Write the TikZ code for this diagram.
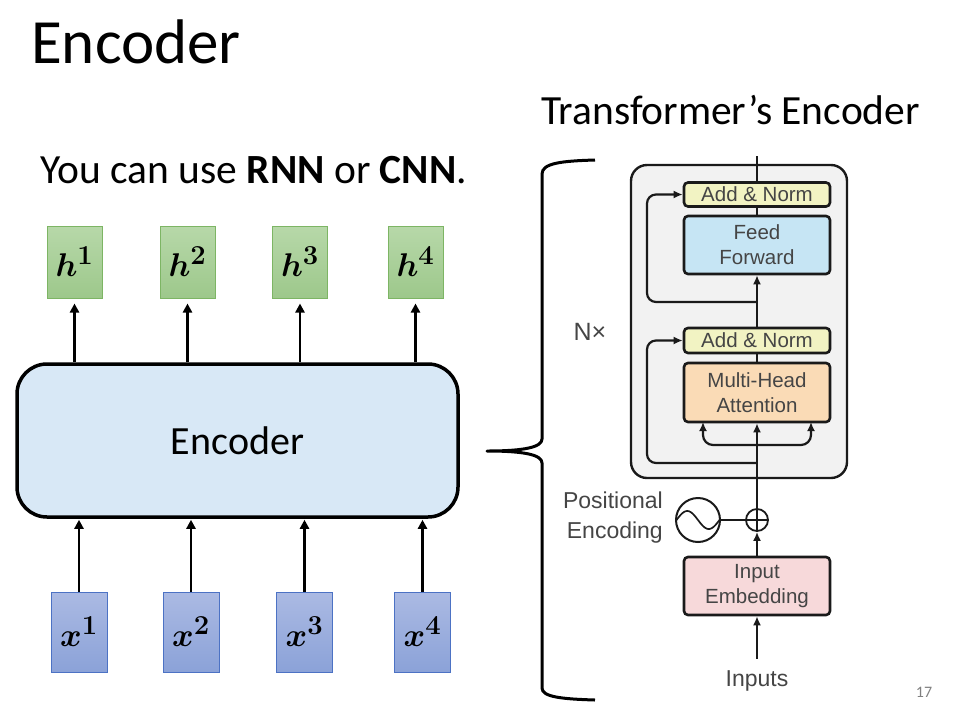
\documentclass[tikz,border=0pt]{standalone}
\usepackage[no-math]{fontspec}
\setmainfont{Carlito}
\newfontfamily\helv{Liberation Sans}
\usepackage{bm}
\usepackage{graphicx}
\usetikzlibrary{arrows.meta,calc}
\newcommand\biglab[1]{\scalebox{1.32}{$\bm{#1}$}}
\definecolor{hgt}{HTML}{B7D8A9}
\definecolor{hgb}{HTML}{9DC88B}
\definecolor{hbd}{HTML}{7DB564}
\definecolor{xgt}{HTML}{ABBAE3}
\definecolor{xgb}{HTML}{8BA2D8}
\definecolor{xbd}{HTML}{4C72C4}
\definecolor{encfill}{HTML}{D8E8F6}
\definecolor{tline}{HTML}{1A1A1A}
\definecolor{tgray}{HTML}{454545}
\definecolor{tbfill}{HTML}{F2F2F2}
\definecolor{anfill}{HTML}{F2F3C3}
\definecolor{fffill}{HTML}{C6E5F4}
\definecolor{mhfill}{HTML}{FADBB6}
\definecolor{emfill}{HTML}{F7D9DA}
\tikzset{
  hbox/.style={draw=hbd, line width=1pt, top color=hgt, bottom color=hgb, minimum width=55pt, minimum height=72pt, inner sep=0pt, font=\fontsize{24.88}{30}\selectfont},
  xbox/.style={draw=xbd, line width=1pt, top color=xgt, bottom color=xgb, minimum width=56pt, minimum height=80pt, inner sep=0pt, font=\fontsize{24.88}{30}\selectfont},
  arr/.style={line width=2.6pt, -{Triangle[width=9pt,length=9pt]}},
  tbox/.style={draw=tline, line width=2.6pt, rounded corners=4pt, minimum width=146pt, inner sep=0pt, text=tgray, font=\helv\fontsize{20.5}{25}\selectfont, align=center},
  tarr/.style={line width=2.2pt, draw=tline, -{Latex[length=9pt,width=8pt]}},
  tln/.style={line width=2.2pt, draw=tline},
  glabel/.style={text=tgray, font=\helv\fontsize{23}{30}\selectfont, inner sep=0pt},
}
\begin{document}
\begin{tikzpicture}[x=1pt,y=-1pt]
\useasboundingbox (0,0) rectangle (975,713);
% titles
\node[anchor=base west, inner sep=0pt, font=\fontsize{63}{70}\selectfont] (title) at (31,63) {Encoder};
\node[anchor=base west, inner sep=0pt, font=\fontsize{41.5}{48}\selectfont] (sub) at (40,183) {You can use \textbf{RNN} or \textbf{CNN}.};
\node[anchor=base west, inner sep=0pt, font=\fontsize{41.5}{48}\selectfont] (ttitle) at (541,124) {Transformer’s Encoder};
\node[inner sep=0pt, text=gray, font=\fontsize{16}{18}\selectfont] (pnum) at (924,692) {17};

% left encoder
\node[draw, line width=3.5pt, rounded corners=30pt, fill=encfill, minimum width=441pt, minimum height=153pt, font=\fontsize{40}{48}\selectfont] (enc) at (237.5,440.5) {Encoder};

\node[hbox] (h1) at (74.5,262) {\biglab{h^1}};
\node[hbox] (h2) at (187.5,262) {\biglab{h^2}};
\node[hbox] (h3) at (300,262) {\biglab{h^3}};
\node[hbox] (h4) at (415.5,262) {\biglab{h^4}};

\node[xbox] (x1) at (79,632) {\biglab{x^1}};
\node[xbox] (x2) at (191,632) {\biglab{x^2}};
\node[xbox] (x3) at (304.5,632) {\biglab{x^3}};
\node[xbox] (x4) at (422.5,632) {\biglab{x^4}};

\foreach \i in {1,2,3,4}{
  \draw[arr, shorten >=5pt] (h\i.south |- enc.north) -- (h\i.south);
  \draw[arr, shorten >=1pt] (x\i.north) -- (x\i.north |- enc.south);
}

% brace
\draw[line width=3pt, line join=round] (595,160) .. controls (562,161) and (542,163) .. (542,174) -- (542,439) .. controls (542,447) and (525,451) .. (487,451)
  .. controls (525,451) and (542,455) .. (542,463) -- (542,688) .. controls (542,697) and (562,699) .. (595,700);

% transformer
\node[draw=tline, line width=2.4pt, rounded corners=16pt, fill=tbfill, minimum width=216pt, minimum height=313pt, inner sep=0pt] (tb) at (739,321.5) {};
\node[tbox, fill=anfill, minimum height=24pt] (an1) at (757,194.5) {Add \& Norm};
\node[tbox, fill=fffill, minimum height=58pt] (ff) at (757,245) {Feed\\Forward};
\node[tbox, fill=anfill, minimum height=25pt] (an2) at (757,340.5) {Add \& Norm};
\node[tbox, fill=mhfill, minimum height=59pt] (mha) at (757,392.5) {Multi-Head\\Attention};
\node[tbox, fill=emfill, minimum height=58pt] (emb) at (757,586) {Input\\Embedding};
\node[draw=tline, line width=1.8pt, circle, minimum size=22pt, inner sep=0pt] (plus) at (757,520) {};
\draw[tline, line width=1.5pt] (plus.north) -- (plus.south) (plus.west) -- (plus.east);
\node[draw=tline, line width=2pt, circle, minimum size=44pt, inner sep=0pt] (pe) at (698,520) {};
\draw[tline, line width=1.7pt] plot[domain=-1:1, samples=50, smooth] ({698+21.5*\x}, {520-9*sin(180*(\x+1))});
\node[glabel, anchor=east, align=right] (petxt) at (663,518) {Positional\\Encoding};
\node[glabel, anchor=center] (inp) at (757,681) {Inputs};
\node[text=tgray, font=\helv\fontsize{25}{28}\selectfont, inner sep=0pt] (nx) at (590,332) {N×};

\coordinate (top) at (757,156);
\coordinate (br) at (757,445);
\coordinate (bl) at (703,422);
\coordinate (brr) at (811,422);
\coordinate (r1) at (757,302);
\coordinate (r1c) at (647,302);
\coordinate (r2) at (757,463);
\coordinate (r2c) at (647,463);

\draw[tarr] (inp.north) ++(0,-12) -- (emb.south);
\draw[tarr] (emb.north) -- (plus.south);
\draw[tln] (pe.east) -- (plus.west);
\draw[tarr] (plus.north) -- (mha.south);
\draw[tarr, rounded corners=10pt] (br) -| (bl);
\draw[tarr, rounded corners=10pt] (br) -| (brr);
\draw[tarr, rounded corners=9pt] (r2) -- (r2c) |- (an2.west);
\draw[tln] (mha.north) -- (an2.south);
\draw[tarr] (an2.north) -- (ff.south);
\draw[tarr, rounded corners=9pt] (r1) -- (r1c) |- (an1.west);
\draw[tln] (ff.north) -- (an1.south);
\draw[tln] (an1.north) -- (top);
\end{tikzpicture}
\end{document}
